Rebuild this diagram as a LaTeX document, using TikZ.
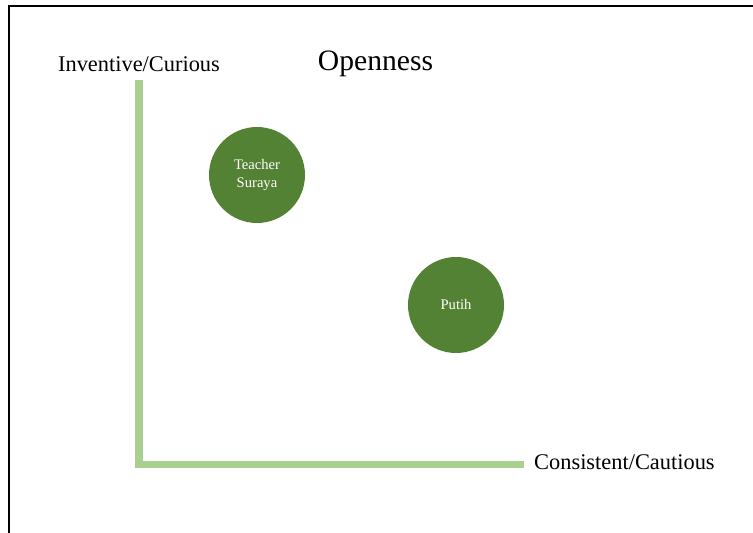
\documentclass[tikz,border=0pt]{standalone}
\usepackage{fontspec}
\setmainfont{Liberation Serif}
\definecolor{axisgreen}{RGB}{169,208,142}
\definecolor{dotgreen}{RGB}{84,130,53}
\begin{document}
\begin{tikzpicture}[
    x=1pt, y=-1pt,
    axislabel/.style={%
        anchor=base, inner sep=0pt, font=\fontsize{22.4}{26}\selectfont},
    person/.style={%
        circle, fill=dotgreen, minimum size=96pt, inner sep=0pt,
        text=white, align=center, font=\fontsize{14.6}{18}\selectfont},
]
    \useasboundingbox (0,0) rectangle (753,533);
    %frame
    \draw[line width=2pt] (9,533) -- (9,5.5) -- (753,5.5);
    %axes
    \coordinate (top) at (139,80);
    \coordinate (origin) at (139,464.5);
    \coordinate (right) at (524,464.5);
    \draw[axisgreen, line width=7.5pt] (top) -- (origin) -- (right);
    %labels
    \node[axislabel] (inventive) at (139,71) {Inventive/Curious};
    \node[axislabel, font=\fontsize{29.6}{34}\selectfont] (openness) at (375.5,70) {Openness};
    \node[axislabel, anchor=base west] (consistent) at (534,469.3) {Consistent/Cautious};
    %people
    \node[person] (suraya) at (257,175) {Teacher\\Suraya};
    \node[person] (putih) at (456,305) {Putih};
\end{tikzpicture}
\end{document}
